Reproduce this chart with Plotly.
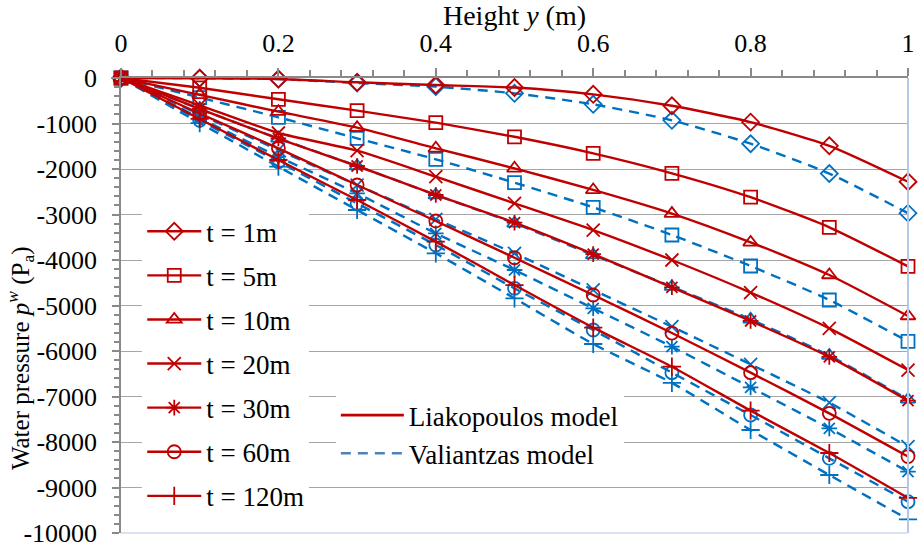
import plotly.graph_objects as go

# ---------------- data ----------------
heights = [0, 0.1, 0.2, 0.3, 0.4, 0.5, 0.6, 0.7, 0.8, 0.9, 1.0]

time_labels = ["t = 1m", "t = 5m", "t = 10m", "t = 20m", "t = 30m", "t = 60m", "t = 120m"]

liak_t1 = [0, -5, -22, -95, -154, -210, -359, -610, -970, -1490, -2280]
liak_t5 = [0, -215, -468, -718, -982, -1292, -1656, -2095, -2620, -3282, -4140]
liak_t10 = [0, -370, -740, -1090, -1545, -1985, -2460, -2980, -3612, -4330, -5231]
liak_t20 = [0, -600, -1209, -1597, -2169, -2755, -3341, -4000, -4716, -5502, -6418]
liak_t30 = [0, -680, -1330, -1934, -2571, -3180, -3870, -4600, -5340, -6130, -7090]
liak_t60 = [0, -780, -1545, -2352, -3143, -3950, -4769, -5605, -6476, -7370, -8320]
liak_t120 = [0, -900, -1802, -2681, -3597, -4550, -5487, -6345, -7312, -8242, -9230]

val_t1 = [0, -5, -25, -110, -190, -337, -579, -930, -1444, -2100, -2970]
val_t5 = [0, -430, -864, -1326, -1787, -2300, -2842, -3450, -4132, -4879, -5790]
val_t10 = [0, -680, -1326, -1934, -2571, -3194, -3890, -4586, -5304, -6100, -7063]
val_t20 = [0, -800, -1582, -2352, -3106, -3853, -4659, -5466, -6293, -7136, -8103]
val_t30 = [0, -880, -1730, -2535, -3414, -4220, -5062, -5905, -6799, -7700, -8652]
val_t60 = [0, -930, -1840, -2755, -3670, -4623, -5538, -6476, -7407, -8359, -9311]
val_t120 = [0, -990, -1949, -2901, -3853, -4842, -5846, -6700, -7736, -8725, -9700]

liak_series = [liak_t1, liak_t5, liak_t10, liak_t20, liak_t30, liak_t60, liak_t120]
val_series = [val_t1, val_t5, val_t10, val_t20, val_t30, val_t60, val_t120]

x_tick_vals = [0, 0.2, 0.4, 0.6, 0.8, 1.0]
x_tick_text = ["0", "0.2", "0.4", "0.6", "0.8", "1"]
y_tick_vals = [0, -1000, -2000, -3000, -4000, -5000, -6000, -7000, -8000, -9000, -10000]
y_tick_text = ["0", "-1000", "-2000", "-3000", "-4000", "-5000", "-6000",
               "-7000", "-8000", "-9000", "-10000"]

# ---------------- style ----------------
RED = "#C00000"
BLUE = "#0070C0"
FONT = "Liberation Serif"
symbols = ["diamond-open", "square-open", "triangle-up-open", "x-thin-open",
           "asterisk-open", "circle-open", "cross-thin-open"]

fig = go.Figure()

for i, (lab, ys) in enumerate(zip(time_labels, val_series)):
    fig.add_trace(go.Scatter(
        x=heights, y=ys, mode="lines+markers", showlegend=False,
        line=dict(color=BLUE, width=2.4, dash="10px,7px", shape="spline", smoothing=0.6),
        marker=dict(symbol=symbols[i], size=13, color=BLUE, line=dict(color=BLUE, width=1.8)),
        cliponaxis=False, name="Valiantzas " + lab,
    ))

for i, (lab, ys) in enumerate(zip(time_labels, liak_series)):
    fig.add_trace(go.Scatter(
        x=heights, y=ys, mode="lines+markers", name=lab, legendgroup=lab,
        line=dict(color=RED, width=2.4, shape="spline", smoothing=0.6),
        marker=dict(symbol=symbols[i], size=13, color=RED, line=dict(color=RED, width=1.8)),
        cliponaxis=False, legend="legend",
    ))

# model legend entries
fig.add_trace(go.Scatter(x=[None], y=[None], mode="lines", name="Liakopoulos model",
                         line=dict(color=RED, width=2.6), legend="legend2"))
fig.add_trace(go.Scatter(x=[None], y=[None], mode="lines", name="Valiantzas model",
                         line=dict(color="#4F81BD", width=2.6, dash="10px,7px"), legend="legend2"))

fig.update_layout(
    width=919, height=548,
    margin=dict(l=121, r=11, t=78, b=15, autoexpand=False),
    paper_bgcolor="white", plot_bgcolor="white",
    font=dict(family=FONT, size=26, color="black"),
    xaxis=dict(
        side="top", range=[0, 1], tickvals=x_tick_vals, ticktext=x_tick_text,
        ticks="outside", ticklen=8, tickwidth=1.5, tickcolor="#898989",
        showline=True, linecolor="#898989", linewidth=1.5, showgrid=False, zeroline=False,
        minor=dict(dtick=0.04, ticks="outside", ticklen=6, tickwidth=1.5, tickcolor="#898989", showgrid=False),
        title=dict(text="Height <i>y</i> (m)", font=dict(size=28), standoff=1),
        tickfont=dict(size=26), automargin=False, ticklabelstandoff=6,
        ticklabeloverflow="allow",
    ),
    yaxis=dict(
        range=[-10000, 0], tickvals=y_tick_vals, ticktext=y_tick_text,
        ticks="outside", ticklen=7, tickwidth=1.5, tickcolor="#898989",
        showline=True, linecolor="#898989", linewidth=1.5,
        showgrid=True, gridcolor="#A6A6A6", gridwidth=1.2, zeroline=False,
        minor=dict(dtick=200, ticks="outside", ticklen=5, tickwidth=1.5, tickcolor="#898989", showgrid=False),
        tickfont=dict(size=26), automargin=False, ticklabelstandoff=10,
        ticklabeloverflow="allow",
    ),
    legend=dict(
        x=0.027, y=0.716, xanchor="left", yanchor="top",
        bgcolor="white", borderwidth=0, font=dict(size=27),
        tracegroupgap=6, itemwidth=54, traceorder="grouped",
    ),
    legend2=dict(
        x=0.273, y=0.312, xanchor="left", yanchor="top",
        bgcolor="white", borderwidth=0, font=dict(size=27), itemwidth=63,
        tracegroupgap=0,
    ),
    shapes=[
        dict(type="line", xref="paper", yref="paper", x0=1, x1=1, y0=0, y1=1,
             line=dict(color="#B4C7E7", width=2)),
        dict(type="line", xref="paper", yref="paper", x0=0, x1=1, y0=0, y1=0,
             line=dict(color="#D9E1F2", width=2)),
    ],
    annotations=[
        dict(text="Water pressure <i>p</i><sup><i>w</i></sup> (P<sub>a</sub>)",
             xref="paper", yref="paper", x=-0.128, y=0.385, textangle=-90,
             showarrow=False, xanchor="center", yanchor="middle", font=dict(size=25)),
    ],
)

fig.write_html(
    "out.html",
    config={"displayModeBar": False},
    post_script="document.body.style.margin='0';document.body.style.overflow='hidden';",
)
